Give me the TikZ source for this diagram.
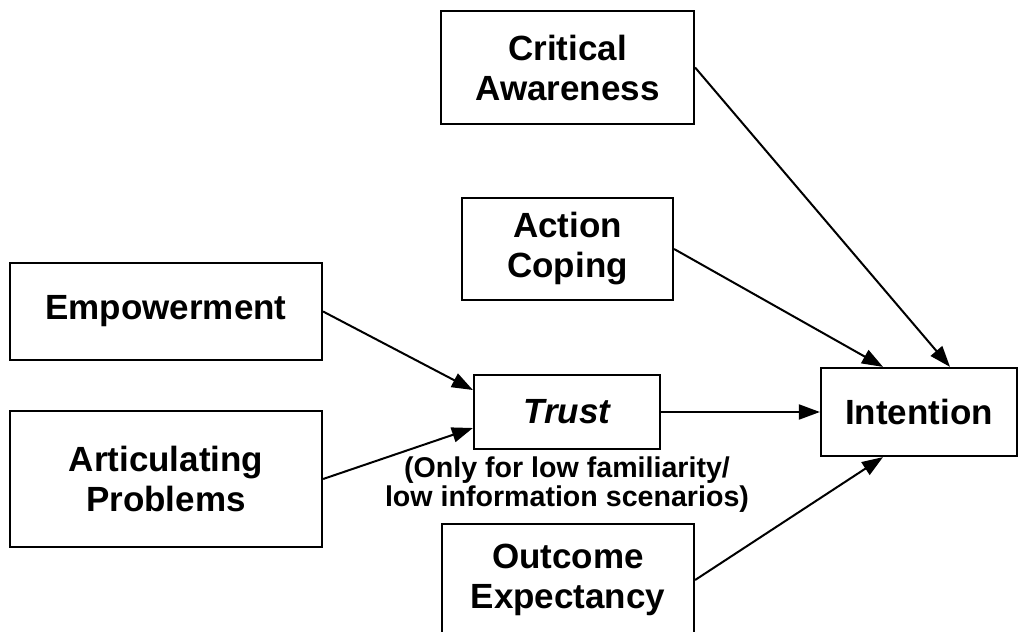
\documentclass[tikz,border=0pt]{standalone}
\usepackage{fontspec}
\setmainfont{Liberation Sans}
\usetikzlibrary{arrows.meta}
\tikzset{
  box/.style={draw=black, line width=2.2pt, fill=white, align=center, inner sep=0pt,
    font=\bfseries\fontsize{35}{40}\selectfont, text=black},
  conn/.style={line width=2pt, -{Triangle[length=21pt,width=15pt]}},
  note/.style={align=center, inner sep=0pt, font=\bfseries\fontsize{28.6}{29}\selectfont}
}
\begin{document}
\begin{tikzpicture}[x=1pt,y=-1pt]
\useasboundingbox (0,0) rectangle (1021,632);
\clip (0,0) rectangle (1021,632);
\node[box, minimum width=253pt, minimum height=113pt] (crit) at (567.5,67.5) {Critical\\Awareness};
\node[box, minimum width=211pt, minimum height=102pt] (act) at (567.5,249) {Action\\Coping};
\node[box, minimum width=312pt, minimum height=97pt] (emp) at (166,311.5) {Empowerment};
\node[box, minimum width=312pt, minimum height=136pt] (art) at (166,479) {Articulating\\Problems};
\node[box, minimum width=186pt, minimum height=74pt] (trust) at (567,412) {\itshape Trust};
\node[box, minimum width=196pt, minimum height=88pt] (int) at (919,412) {Intention};
\node[box, minimum width=252pt, minimum height=112pt] (out) at (568,580) {Outcome\\Expectancy};
\node[note] (lbl) at (567,485) {(Only for low familiarity/\\low information scenarios)};
\draw[conn] (crit.east) -- ([xshift=31pt]int.north);
\draw[conn] (act.east) -- ([xshift=-36pt]int.north);
\draw[conn] (emp.east) -- ([yshift=22pt]trust.west);
\draw[conn] (art.east) -- ([yshift=-16pt]trust.west);
\draw[conn] (trust.east) -- (int.west);
\draw[conn] (out.east) -- ([xshift=-36pt]int.south);
\end{tikzpicture}
\end{document}
